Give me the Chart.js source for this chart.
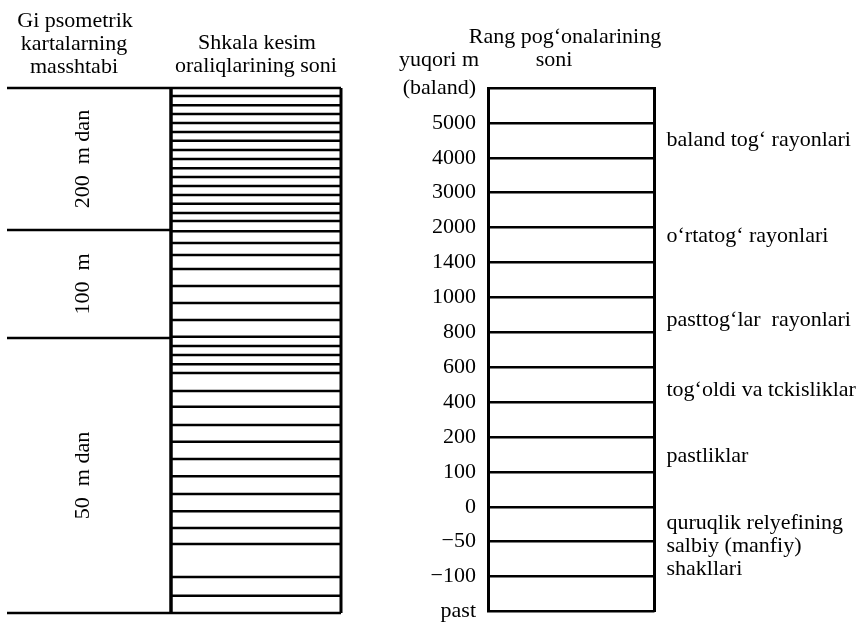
<!DOCTYPE html>
<html>
<head>
<meta charset="utf-8">
<script src="https://cdn.jsdelivr.net/npm/chart.js@4"></script>
<style>
  body { margin: 0; background: #fff; }
  #wrap { position: relative; width: 868px; height: 625px; }
  #leftChart { position: absolute; left: 0; top: 0; }
  #rightChart { position: absolute; left: 380px; top: 0; }
</style>
</head>
<body>
<div id="wrap">
  <canvas id="leftChart" width="380" height="625"></canvas>
  <canvas id="rightChart" width="488" height="625"></canvas>
</div>
<script>
// gipsometrik karta masshtablari (chap ustun)
var scaleSections = ['200  m dan', '100  m', '50  m dan'];
var sectionBounds = [15, 10.94, 7.86, 0];

// shkala kesim chiziqlari (o'rta ustun), rang pog'onasi birligida
var shkalaLines = [15, 14.77, 14.51, 14.26, 14.0, 13.74, 13.49, 13.23, 12.97, 12.71,
    12.46, 12.2, 11.94, 11.69, 11.43, 11.2, 10.91, 10.57, 10.23, 9.83,
    9.34, 8.86, 8.37, 7.89, 7.63, 7.37, 7.11, 6.86, 6.34, 5.89,
    5.37, 4.89, 4.4, 3.91, 3.4, 2.91, 2.43, 1.97, 1.03, 0.49, 0];

// rang pog'onalari (o'ng ustun)
var rangTicks = ['past', '\u2212100', '\u221250', '0', '100', '200', '400', '600', '800',
    '1000', '1400', '2000', '3000', '4000', '5000', '(baland)'];
var regionLabels = [
    'baland tog\u2018 rayonlari',
    'o\u2018rtatog\u2018 rayonlari',
    'pasttog\u2018lar  rayonlari',
    'tog\u2018oldi va tckisliklar',
    'pastliklar',
    ['quruqlik relyefining', 'salbiy (manfiy)', 'shakllari']
];
var regionAt = [13.51, 10.76, 8.35, 6.35, 4.46, 1.88];

Chart.defaults.font.family = '"Liberation Serif", "Times New Roman", serif';
Chart.defaults.font.size = 22;
Chart.defaults.color = '#000';
Chart.defaults.animation = false;

var FONT = '22px "Liberation Serif"';

var textPlugin = {
    id: 'texts',
    afterDraw: function(chart, args, opts) {
        var ctx = chart.ctx;
        ctx.save();
        ctx.fillStyle = '#000';
        ctx.font = FONT;
        ctx.textBaseline = 'middle';
        (opts.items || []).forEach(function(t) {
            ctx.textAlign = t.align || 'center';
            ctx.fillText(t.text, t.x, t.y);
        });
        if (opts.sections) {
            var y = chart.scales.y;
            scaleSections.forEach(function(label, i) {
                var mid = y.getPixelForValue((sectionBounds[i] + sectionBounds[i + 1]) / 2);
                ctx.save();
                ctx.translate(opts.sectionX, mid);
                ctx.rotate(-Math.PI / 2);
                ctx.textAlign = 'center';
                ctx.fillText(label, 0, 0);
                ctx.restore();
            });
        }
        ctx.restore();
    }
};

function hline(v, x1, x2, w) {
    return {
        data: [{x: x1, y: v}, {x: x2, y: v}],
        borderColor: '#000',
        borderWidth: w,
        pointRadius: 0,
        showLine: true,
        clip: false
    };
}
function vline(x, v1, v2, w) {
    return {
        data: [{x: x, y: v1}, {x: x, y: v2}],
        borderColor: '#000',
        borderWidth: w,
        pointRadius: 0,
        showLine: true,
        clip: false
    };
}

var leftSets = [];
sectionBounds.forEach(function(v) {
    leftSets.push(hline(v, 7, 171, 2.5));
});
shkalaLines.forEach(function(v) {
    leftSets.push(hline(v, 171, 341, 2.5));
});
leftSets.push(vline(171, 0, 15, 3.5));
leftSets.push(vline(341, 0, 15, 3));

new Chart(document.getElementById('leftChart'), {
    type: 'scatter',
    data: { datasets: leftSets },
    options: {
        responsive: false,
        devicePixelRatio: 1,
        layout: { padding: { top: 88, bottom: 12, left: 0, right: 0 } },
        plugins: {
            legend: { display: false },
            tooltip: { enabled: false },
            texts: {
                items: [
                    { text: 'Gi psometrik', x: 75, y: 21 },
                    { text: 'kartalarning', x: 74, y: 44 },
                    { text: 'masshtabi', x: 74, y: 67 },
                    { text: 'Shkala kesim', x: 257, y: 43 },
                    { text: 'oraliqlarining soni', x: 256, y: 66 }
                ],
                sections: true,
                sectionX: 83
            }
        },
        scales: {
            x: { type: 'linear', min: 0, max: 380, display: false },
            y: { type: 'linear', min: 0, max: 15, display: false }
        }
    },
    plugins: [textPlugin]
});

function fixAxis(width) {
    return function(s) {
        s.width = width;
        s.paddingTop = 0;
        s.paddingBottom = 0;
    };
}

new Chart(document.getElementById('rightChart'), {
    type: 'scatter',
    data: { datasets: [] },
    options: {
        responsive: false,
        devicePixelRatio: 1,
        layout: { padding: { top: 88, bottom: 13.5, left: 0, right: 0 } },
        plugins: {
            legend: { display: false },
            tooltip: { enabled: false },
            texts: {
                items: [
                    { text: 'Rang pog\u2018onalarining', x: 185, y: 37 },
                    { text: 'soni', x: 174, y: 60 },
                    { text: 'yuqori m', x: 99, y: 60, align: 'right' }
                ]
            }
        },
        scales: {
            x: { type: 'linear', min: 0, max: 1, display: false },
            y: {
                type: 'linear',
                position: 'left',
                min: 0,
                max: 15,
                afterFit: fixAxis(108),
                ticks: {
                    stepSize: 1,
                    autoSkip: false,
                    padding: 12,
                    callback: function(v) { return rangTicks[v]; }
                },
                grid: { color: '#000', lineWidth: 2.5, drawTicks: false },
                border: { display: true, color: '#000', width: 3 }
            },
            y2: {
                type: 'linear',
                position: 'right',
                min: 0,
                max: 15,
                afterFit: fixAxis(213.5),
                afterBuildTicks: function(s) {
                    s.ticks = regionAt.map(function(v) { return { value: v }; });
                },
                ticks: {
                    autoSkip: false,
                    padding: 12,
                    font: { lineHeight: 1.05 },
                    callback: function(v, i) { return regionLabels[i]; }
                },
                grid: { display: false, drawTicks: false },
                border: { display: true, color: '#000', width: 3 }
            }
        }
    },
    plugins: [textPlugin]
});
</script>
</body>
</html>
